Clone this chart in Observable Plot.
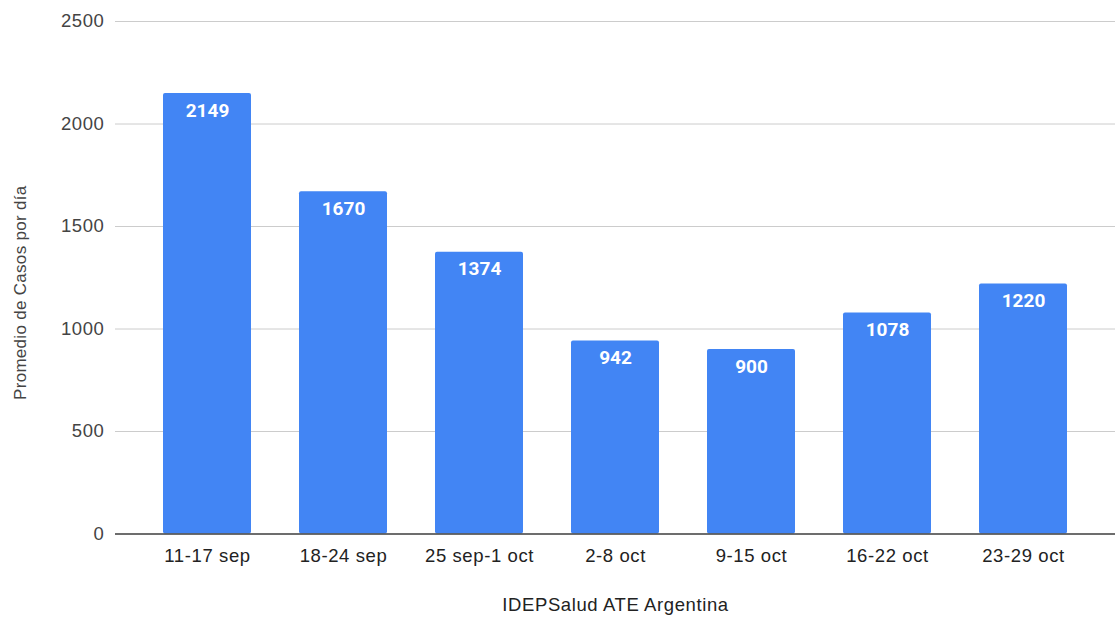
<!DOCTYPE html>
<html>
<head>
<meta charset="utf-8">
<script src="https://cdn.jsdelivr.net/npm/d3@7"></script>
<script src="https://cdn.jsdelivr.net/npm/@observablehq/plot@0.6"></script>
<style>
  html, body { margin: 0; padding: 0; background: #fff; }
  #chart { width: 1115px; height: 618px; }
  #chart svg text { letter-spacing: 0.6px; }
  #chart svg .barlabel text { letter-spacing: 0; }
  #chart svg .ytitle text { letter-spacing: 0.3px; }
</style>
</head>
<body>
<div id="chart"></div>
<script>
const weeks = ["11-17 sep", "18-24 sep", "25 sep-1 oct", "2-8 oct", "9-15 oct", "16-22 oct", "23-29 oct"];
const cases = [2149, 1670, 1374, 942, 900, 1078, 1220];
const yTicks = [0, 500, 1000, 1500, 2000, 2500];
const yTitle = "Promedio de Casos por día";
const xTitle = "IDEPSalud ATE Argentina";

const data = weeks.map((w, i) => ({week: w, value: cases[i]}));

const chart = Plot.plot({
  width: 1115,
  height: 618,
  marginLeft: 115,
  marginRight: 0,
  marginTop: 21,
  marginBottom: 84.5,
  style: {fontFamily: "'Liberation Sans', Arial, sans-serif", fontSize: "18.5px", color: "#444", background: "#fff"},
  x: {domain: weeks, padding: 0.35},
  y: {domain: [0, 2500]},
  marks: [
    Plot.gridY(yTicks, {stroke: "#cccccc", strokeOpacity: 1}),
    Plot.barY(data, {x: "week", y: "value", fill: "#4285f4", rx: 2}),
    Plot.ruleY([0], {stroke: "#444", strokeWidth: 1.5}),
    Plot.text(data, {x: "week", y: "value", text: d => String(d.value), dy: 17, fill: "white", fontWeight: "bold", fontSize: 19, fontFamily: "Roboto, 'Liberation Sans', sans-serif", className: "barlabel"}),
    Plot.axisY(yTicks, {tickSize: 0, tickPadding: 11, fontSize: 18.5, fill: "#444", label: null, tickFormat: d => String(d)}),
    Plot.text([yTitle], {frameAnchor: "left", rotate: -90, dx: -95, dy: 15, fontSize: 17, fill: "#444", textAnchor: "middle", className: "ytitle"}),
    Plot.axisX({tickSize: 0, tickPadding: 15, fontSize: 18.5, fill: "#222", label: xTitle, labelAnchor: "center", labelOffset: 77, labelArrow: "none"})
  ]
});
document.getElementById("chart").appendChild(chart);
</script>
</body>
</html>
